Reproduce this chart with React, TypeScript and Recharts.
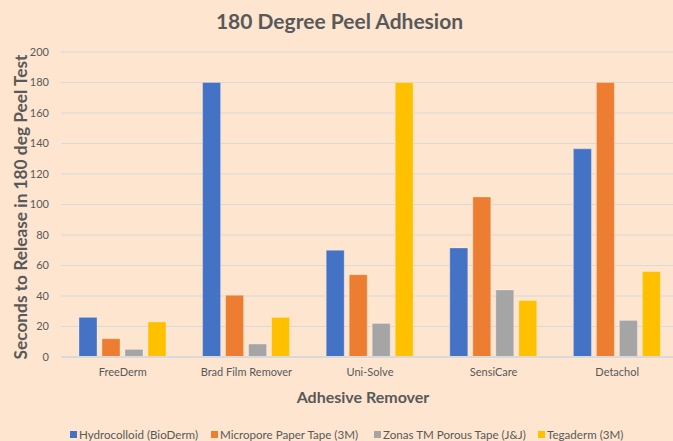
import React from 'react';
import { BarChart, Bar, XAxis, YAxis, CartesianGrid, Legend } from 'recharts';

const categories = ['FreeDerm', 'Brad Film Remover', 'Uni-Solve', 'SensiCare', 'Detachol'];
const hydrocolloid = [26, 180, 70, 71.5, 136.5];
const micropore = [12, 40.5, 54, 105, 180];
const zonas = [5, 8.5, 22, 44, 24];
const tegaderm = [23, 26, 180, 37, 56];
const yTicks = [0, 20, 40, 60, 80, 100, 120, 140, 160, 180, 200];

const seriesNames = [
  'Hydrocolloid (BioDerm)',
  'Micropore Paper Tape (3M)',
  'Zonas TM Porous Tape (J&J)',
  'Tegaderm (3M)',
];
const seriesKeys = ['hydrocolloid', 'micropore', 'zonas', 'tegaderm'];
const colors = ['#4472C4', '#ED7D31', '#A5A5A5', '#FFC000'];

const data = categories.map((c, i) => ({
  name: c,
  hydrocolloid: hydrocolloid[i],
  micropore: micropore[i],
  zonas: zonas[i],
  tegaderm: tegaderm[i],
}));

const FONT = 'Lato, "Open Sans", sans-serif';
const TEXT = '#595959';
const BG = '#FDE5D0';

const legendLefts = [70, 211, 374, 538];

const LegendContent = () => (
  <div style={{ position: 'relative', height: 14, top: 9, fontFamily: FONT, fontSize: 11.6, color: TEXT }}>
    {seriesNames.map((n, i) => (
      <div
        key={n}
        style={{ position: 'absolute', left: legendLefts[i], top: 0, display: 'flex', alignItems: 'center', whiteSpace: 'nowrap' }}
      >
        <span style={{ display: 'inline-block', width: 7, height: 7, background: colors[i], marginRight: 2 }} />
        <span>{n}</span>
      </div>
    ))}
  </div>
);

export default function App() {
  return (
    <div style={{ position: 'fixed', left: 0, top: 0, width: 673, height: 441, overflow: 'hidden', background: BG }}>
      <div
        style={{
          position: 'absolute',
          left: 0,
          width: 680,
          top: 8,
          textAlign: 'center',
          fontFamily: FONT,
          fontWeight: 700,
          fontSize: 21,
          color: TEXT,
        }}
      >
        <span style={{ position: 'relative', left: -0.5 }}>180 Degree Peel Adhesion</span>
      </div>
      <BarChart
        width={680}
        height={441}
        data={data}
        margin={{ top: 52, right: 1, bottom: 0, left: 0 }}
        barSize={18}
        barGap={5}
        style={{ position: 'absolute', left: 0, top: 0 }}
      >
        <CartesianGrid vertical={false} stroke="#D9D9D9" strokeWidth={1.2} />
        <XAxis
          dataKey="name"
          tickLine={false}
          axisLine={{ stroke: '#D9D9D9', strokeWidth: 2 }}
          tickMargin={5}
          height={62}
          tick={{ fontFamily: FONT, fontSize: 11, fill: TEXT }}
          label={{
            content: () => (
              <text
                x={363}
                y={396}
                textAnchor="middle"
                dominantBaseline="central"
                fontFamily={FONT}
                fontWeight={700}
                fontSize={16}
                fill={TEXT}
              >
                Adhesive Remover
              </text>
            ),
          }}
        />
        <YAxis
          width={61}
          domain={[0, 200]}
          ticks={yTicks}
          tickLine={false}
          axisLine={false}
          tickMargin={6}
          tick={{ fontFamily: FONT, fontSize: 11, fill: TEXT }}
          label={{
            content: () => (
              <text
                x={20}
                y={207}
                transform="rotate(-90 20 207)"
                textAnchor="middle"
                dominantBaseline="central"
                fontFamily={FONT}
                fontWeight={700}
                fontSize={17.3}
                fill={TEXT}
              >
                Seconds to Release in 180 deg Peel Test
              </text>
            ),
          }}
        />
        <Legend verticalAlign="bottom" height={22} content={<LegendContent />} />
        {seriesKeys.map((k, i) => (
          <Bar
            key={k}
            dataKey={k}
            name={seriesNames[i]}
            fill={colors[i]}
            stroke="rgba(255,255,255,0.3)"
            strokeWidth={1}
            isAnimationActive={false}
          />
        ))}
      </BarChart>
    </div>
  );
}
